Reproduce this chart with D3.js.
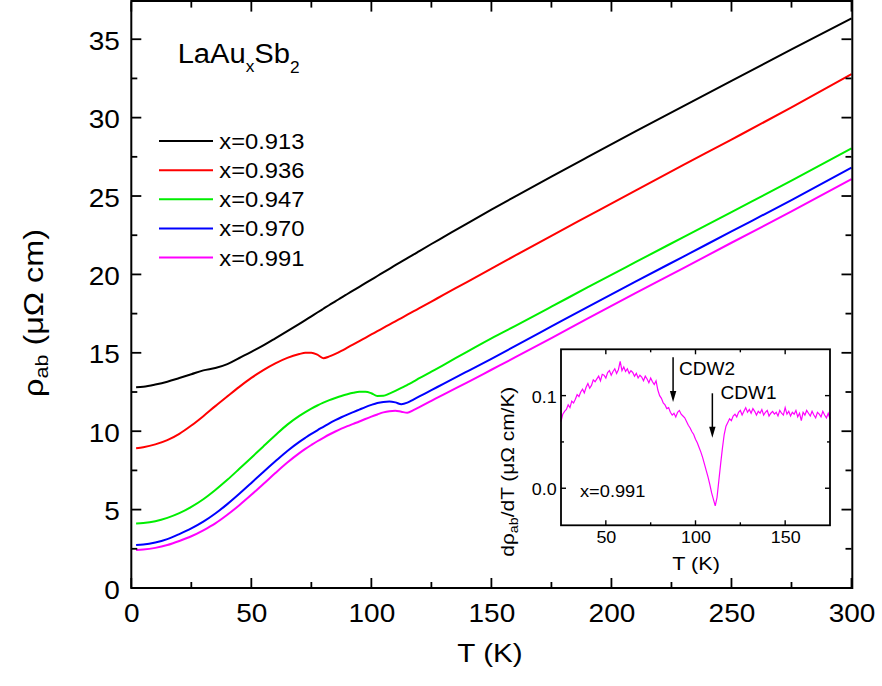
<!DOCTYPE html>
<html><head><meta charset="utf-8">
<script src="https://cdn.jsdelivr.net/npm/d3@7"></script>
<style>
body{margin:0;background:#fff;}
svg{display:block;}
text{font-family:"Liberation Sans",Arial,Helvetica,sans-serif;fill:#000;}
</style>
</head><body>
<svg id="chart" width="882" height="686"></svg>
<script>
// ---------------- data ----------------
const temperature = [2,5,10,15,20,25,30,35,40,45,50,55,60,65,70,72.5,75,77.5,80,82.5,85,87.5,90,92.5,95,97.5,100,102.5,105,107.5,110,112.5,115,117.5,120,125,130,140,150,160,175,190,210,230,250,275,300];
const rho_0913 = [12.80,12.84,12.98,13.16,13.39,13.63,13.88,14.03,14.28,14.67,15.06,15.47,15.92,16.38,16.85,17.09,17.33,17.57,17.81,18.05,18.28,18.52,18.75,18.98,19.21,19.44,19.67,19.90,20.13,20.36,20.59,20.81,21.04,21.26,21.49,21.94,22.38,23.26,24.13,24.98,26.24,27.48,29.12,30.74,32.35,34.35,36.33];
const rho_0936 = [8.91,8.98,9.16,9.43,9.83,10.36,10.96,11.60,12.22,12.83,13.40,13.90,14.33,14.68,14.92,15.00,15.00,14.88,14.66,14.77,14.93,15.12,15.33,15.54,15.75,15.96,16.17,16.38,16.59,16.80,17.01,17.22,17.43,17.64,17.85,18.27,18.69,19.53,20.37,21.21,22.46,23.70,25.35,26.98,28.60,30.65,32.78];
const rho_0947 = [4.12,4.15,4.26,4.47,4.77,5.17,5.66,6.25,6.90,7.60,8.31,9.03,9.74,10.42,10.98,11.22,11.44,11.64,11.82,11.98,12.12,12.25,12.36,12.45,12.51,12.51,12.42,12.25,12.26,12.40,12.57,12.76,12.96,13.16,13.38,13.80,14.22,15.08,15.92,16.72,17.94,19.17,20.78,22.38,23.98,25.98,28.04];
const rho_0970 = [2.74,2.77,2.90,3.12,3.44,3.80,4.23,4.75,5.35,6.01,6.70,7.40,8.08,8.74,9.32,9.58,9.83,10.06,10.28,10.50,10.70,10.89,11.06,11.22,11.38,11.54,11.68,11.80,11.87,11.90,11.84,11.72,11.82,12.02,12.22,12.62,13.02,13.82,14.62,15.44,16.68,17.92,19.54,21.14,22.74,24.74,26.81];
const rho_0991 = [2.42,2.45,2.56,2.74,3.00,3.30,3.68,4.12,4.67,5.28,5.94,6.63,7.33,8.00,8.60,8.87,9.12,9.36,9.58,9.79,9.98,10.16,10.32,10.47,10.62,10.78,10.93,11.07,11.20,11.28,11.31,11.24,11.18,11.35,11.54,11.94,12.34,13.12,13.92,14.72,15.94,17.18,18.80,20.40,22.02,24.02,26.08];
const seriesLabels = ["x=0.913","x=0.936","x=0.947","x=0.970","x=0.991"];
const seriesColors = ["#000000","#ff0000","#00ee00","#0000ff","#ff00ff"];

const xTickValues = [0,50,100,150,200,250,300];
const xMinorValues = [25,75,125,175,225,275];
const yTickValues = [0,5,10,15,20,25,30,35];
const yMinorValues = [2.5,7.5,12.5,17.5,22.5,27.5,32.5];

// inset: d(rho)/dT for x=0.991
const insetTemp = [25,26,27,28,29,30,31,32,33,34,35,36,37,38,39,40,41,42,43,44,45,46,47,48,49,50,51,52,53,54,55,56,57,58,59,60,61,62,63,64,65,66,67,68,69,70,71,72,73,74,75,76,77,78,79,80,81,82,83,84,85,86,87,88,89,90,91,92,93,94,95,96,97,98,99,100,101,102,103,104,105,106,107,108,109,110,111,112,113,114,115,116,117,118,119,120,121,122,123,124,125,126,127,128,129,130,131,132,133,134,135,136,137,138,139,140,141,142,143,144,145,146,147,148,149,150,151,152,153,154,155,156,157,158,159,160,161,162,163,164,165,166,167,168,169,170,171,172,173,174,175];
const insetDeriv = [
0.072,0.080,0.083,0.085,0.090,0.087,0.094,0.092,0.096,0.101,
0.099,0.104,0.107,0.103,0.109,0.113,0.108,0.111,0.117,0.115,
0.118,0.121,0.116,0.123,0.122,0.119,0.125,0.127,0.122,0.126,
0.129,0.124,0.128,0.137,0.127,0.131,0.126,0.129,0.124,0.127,
0.125,0.121,0.124,0.119,0.122,0.120,0.116,0.121,0.118,0.114,
0.119,0.115,0.112,0.116,0.106,0.100,0.097,0.092,0.090,0.086,
0.087,0.082,0.079,0.081,0.077,0.082,0.084,0.080,0.078,0.076,
0.072,0.068,0.065,0.061,0.058,0.053,0.049,0.044,0.039,0.033,
0.026,0.019,0.012,0.004,-0.005,-0.012,-0.019,-0.010,0.008,0.026,
0.043,0.058,0.067,0.071,0.075,0.073,0.078,0.080,0.077,0.082,
0.084,0.079,0.083,0.087,0.082,0.085,0.081,0.086,0.083,0.079,
0.083,0.081,0.085,0.079,0.082,0.084,0.078,0.081,0.083,0.080,
0.082,0.078,0.084,0.081,0.079,0.087,0.080,0.083,0.078,0.082,
0.080,0.084,0.077,0.081,0.073,0.082,0.079,0.084,0.081,0.078,
0.083,0.079,0.076,0.082,0.080,0.077,0.083,0.079,0.076,0.081,
0.075];
const insetXTicks = [50,100,150];
const insetXMinor = [75,125];
const insetYTicks = [0.0,0.1];
const insetYMinor = [0.05];
const arrowLabels = ["CDW2","CDW1"];
const arrowT = [87.5,109.4];
const arrowTop = [0.1415,0.1025];
const arrowTip = [0.0931,0.0546];
const arrowLabelT = [90.8,113.9];
const arrowLabelV = [0.1226,0.0966];

// ---------------- layout ----------------
const svg = d3.select("#chart");
const M = {left:131.3, right:851.5, top:1.6, bottom:588};
const x = d3.scaleLinear().domain([0,300]).range([M.left,M.right]);
const y = d3.scaleLinear().domain([0,37.4]).range([M.bottom,M.top]);

function stretchText(sel, s){
  sel.each(function(){
    const t = d3.select(this);
    const tx = +t.attr("x") || 0;
    t.attr("x",0).attr("transform",`translate(${tx},0) scale(${s},1)`);
  });
}
// inward tick marks, positioned with the scales
function drawTicks(scale, values, orient, pos, len, width){
  const g = svg.append("g");
  const horiz = (orient==="bottom"||orient==="top");
  const dir = (orient==="bottom"||orient==="right") ? -1 : 1;
  g.selectAll("line").data(values).join("line")
    .attr("x1", d => horiz ? scale(d) : pos)
    .attr("x2", d => horiz ? scale(d) : pos + dir*len)
    .attr("y1", d => horiz ? pos : scale(d))
    .attr("y2", d => horiz ? pos + dir*len : scale(d))
    .style("stroke","#000").style("stroke-width",width);
}

// main lines
const series = [rho_0913,rho_0936,rho_0947,rho_0970,rho_0991];
const line = d3.line().x(d=>x(d[0])).y(d=>y(d[1])).curve(d3.curveMonotoneX);
const gLines = svg.append("g");
series.forEach((vals,i)=>{
  gLines.append("path")
    .attr("d", line(temperature.map((t,j)=>[t,vals[j]])))
    .attr("fill","none").attr("stroke",seriesColors[i]).attr("stroke-width",2);
});

// axis titles
svg.append("text").attr("transform",`translate(490,662) scale(1.14,1)`)
  .attr("text-anchor","middle").attr("font-size",26).text("T (K)");
const yl = svg.append("text").attr("transform",`translate(43,313) rotate(-90) scale(1.2,1)`)
  .attr("text-anchor","middle").attr("font-size",27);
yl.append("tspan").text("ρ");
yl.append("tspan").attr("font-size",18).attr("dy",5).text("ab");
yl.append("tspan").attr("dy",-5).text(" (μΩ cm)");

// compound title
const tt = svg.append("text").attr("transform",`translate(${x(19.3)},${y(33.5)}) scale(1.08,1)`).attr("font-size",27);
tt.append("tspan").text("LaAu");
tt.append("tspan").attr("font-size",16).attr("dy",9).text("x");
tt.append("tspan").attr("dy",-9).text("Sb");
tt.append("tspan").attr("font-size",16).attr("dy",10).text("2");

// legend
const legX0 = 159, legX1 = 213, legY0 = 141, legDY = 29.15;
seriesLabels.forEach((lab,i)=>{
  const yy = legY0 + i*legDY;
  svg.append("line").attr("x1",legX0).attr("x2",legX1).attr("y1",yy).attr("y2",yy)
    .attr("stroke",seriesColors[i]).attr("stroke-width",2);
  svg.append("text").attr("transform",`translate(219.3,${yy+8}) scale(1.08,1)`).attr("font-size",22).text(lab);
});

// main axes: labels from d3 axes, inward ticks
const tickFont = 25, tickS = 1.12;
const gx = svg.append("g").attr("transform",`translate(0,${M.bottom})`)
  .call(d3.axisBottom(x).tickValues(xTickValues).tickSize(0).tickPadding(16.7).tickFormat(d3.format("d")));
gx.select(".domain").remove();
gx.selectAll("text").attr("font-size",tickFont).call(stretchText,tickS);
const gy = svg.append("g").attr("transform",`translate(${M.left},0)`)
  .call(d3.axisLeft(y).tickValues(yTickValues).tickSize(0).tickPadding(11.5).tickFormat(d3.format("d")));
gy.select(".domain").remove();
gy.selectAll("text").attr("font-size",tickFont).attr("dy","0.4em").call(stretchText,tickS);

drawTicks(x, xTickValues, "bottom", M.bottom, 10, 1.8);
drawTicks(x, xMinorValues, "bottom", M.bottom, 6, 1.8);
drawTicks(x, xTickValues, "top", M.top, 10, 1.8);
drawTicks(x, xMinorValues, "top", M.top, 6, 1.8);
drawTicks(y, yTickValues, "left", M.left, 10, 1.8);
drawTicks(y, yMinorValues, "left", M.left, 6, 1.8);
drawTicks(y, yTickValues, "right", M.right, 10, 1.8);
drawTicks(y, yMinorValues, "right", M.right, 6, 1.8);

svg.append("rect").attr("x",M.left).attr("y",M.top-0.6).attr("width",M.right-M.left+0.8).attr("height",M.bottom-M.top+0.6)
  .attr("fill","none").attr("stroke","#000").attr("stroke-width",2);

// ---------------- inset ----------------
const I = {left:561, right:830, top:349.3, bottom:525.3};
const ix = d3.scaleLinear().domain([25,175]).range([I.left,I.right]);
const iy = d3.scaleLinear().domain([-0.04,0.15]).range([I.bottom,I.top]);
svg.append("rect").attr("x",I.left).attr("y",I.top).attr("width",I.right-I.left).attr("height",I.bottom-I.top)
  .attr("fill","#fff");
svg.append("path")
  .attr("d", d3.line().x(d=>ix(d[0])).y(d=>iy(d[1]))(insetTemp.map((t,j)=>[t,insetDeriv[j]])))
  .attr("fill","none").attr("stroke","#ff00ff").attr("stroke-width",1.2);

const inFont = 16, inS = 1.12;
const igx = svg.append("g").attr("transform",`translate(0,${I.bottom})`)
  .call(d3.axisBottom(ix).tickValues(insetXTicks).tickSize(0).tickPadding(6.6).tickFormat(d3.format("d")));
igx.select(".domain").remove();
igx.selectAll("text").attr("font-size",inFont).call(stretchText,inS);
const igy = svg.append("g").attr("transform",`translate(${I.left},0)`)
  .call(d3.axisLeft(iy).tickValues(insetYTicks).tickSize(0).tickPadding(4.3).tickFormat(d3.format(".1f")));
igy.select(".domain").remove();
igy.selectAll("text").attr("font-size",inFont).attr("dy","0.4em").call(stretchText,inS);

drawTicks(ix, insetXTicks, "bottom", I.bottom, 5, 1.4);
drawTicks(ix, insetXMinor, "bottom", I.bottom, 3, 1.4);
drawTicks(ix, insetXTicks, "top", I.top, 5, 1.4);
drawTicks(ix, insetXMinor, "top", I.top, 3, 1.4);
drawTicks(iy, insetYTicks, "left", I.left, 5, 1.4);
drawTicks(iy, insetYMinor, "left", I.left, 3, 1.4);
drawTicks(iy, insetYTicks, "right", I.right, 5, 1.4);
drawTicks(iy, insetYMinor, "right", I.right, 3, 1.4);

svg.append("rect").attr("x",I.left).attr("y",I.top).attr("width",I.right-I.left).attr("height",I.bottom-I.top)
  .attr("fill","none").attr("stroke","#000").attr("stroke-width",1.8);

// inset labels
svg.append("text").attr("transform",`translate(696,570) scale(1.14,1)`).attr("text-anchor","middle")
  .attr("font-size",19).text("T (K)");
const iyl = svg.append("text").attr("transform",`translate(514,471.7) rotate(-90) scale(1.1,1)`)
  .attr("text-anchor","middle").attr("font-size",19);
iyl.append("tspan").text("dρ");
iyl.append("tspan").attr("font-size",13).attr("dy",4).text("ab");
iyl.append("tspan").attr("dy",-4).text("/dT (μΩ cm/K)");
svg.append("text").attr("transform",`translate(${ix(35.6)},${iy(-0.009)}) scale(1.14,1)`)
  .attr("font-size",16).text("x=0.991");

// arrows
arrowLabels.forEach((lab,i)=>{
  const ax = ix(arrowT[i]), y0 = iy(arrowTop[i]), y1 = iy(arrowTip[i]);
  svg.append("line").attr("x1",ax).attr("x2",ax).attr("y1",y0).attr("y2",y1-8)
    .attr("stroke","#000").attr("stroke-width",1.5);
  svg.append("path").attr("d",`M${ax-3.2},${y1-11}L${ax+3.2},${y1-11}L${ax},${y1}Z`).attr("fill","#000");
  svg.append("text").attr("transform",`translate(${ix(arrowLabelT[i])},${iy(arrowLabelV[i])}) scale(1.06,1)`)
    .attr("font-size",18).text(lab);
});
</script>
</body></html>
